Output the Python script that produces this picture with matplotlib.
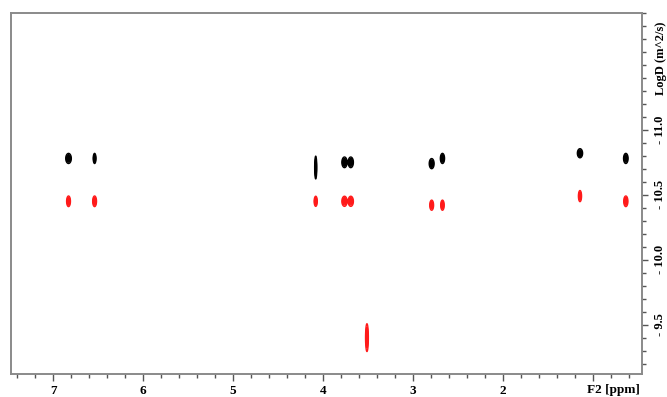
import numpy as np
import matplotlib
matplotlib.use("Agg")
import matplotlib.pyplot as plt
from matplotlib.ticker import MultipleLocator, FixedLocator
import matplotlib.transforms as mtransforms

# peak positions
black_ppm = [6.83, 6.54, 4.08, 3.76, 3.69, 2.79, 2.67, 1.14, 0.63]
black_logd = [-10.78, -10.78, -10.71, -10.75, -10.75, -10.74, -10.78, -10.82, -10.78]
black_wx = [0.016, 0.008, 0.006, 0.015, 0.015, 0.014, 0.012, 0.015, 0.013]
black_wy = [0.020, 0.020, 0.045, 0.021, 0.021, 0.020, 0.020, 0.018, 0.020]

red_ppm = [6.83, 6.54, 4.08, 3.76, 3.69, 2.79, 2.67, 1.14, 0.63, 3.51]
red_logd = [-10.45, -10.45, -10.45, -10.45, -10.45, -10.42, -10.42, -10.49, -10.45, -9.40]
red_wx = [0.011, 0.011, 0.009, 0.015, 0.015, 0.011, 0.010, 0.009, 0.012, 0.008]
red_wy = [0.021, 0.021, 0.020, 0.020, 0.020, 0.020, 0.020, 0.022, 0.021, 0.055]

x_ticks = [7, 6, 5, 4, 3, 2, 1]
x_labels = ["7", "6", "5", "4", "3", "2", ""]
y_ticks = [-11.0, -10.5, -10.0, -9.5]
y_labels = ["- 11.0", "- 10.5", "- 10.0", "- 9.5"]

xlim = (7.47, 0.45)
ylim = (-9.12, -11.9)

plt.rcParams['font.family'] = ['Liberation Serif', 'DejaVu Serif']
plt.rcParams['font.weight'] = 'bold'


def peak_map(ppm, logd, wx, wy, gx, gy):
    z = np.zeros((len(gy), len(gx)))
    for p, d, sx, sy in zip(ppm, logd, wx, wy):
        z = np.maximum(z, np.outer(np.exp(-0.5 * ((gy - d) / sy) ** 2),
                                   np.exp(-0.5 * ((gx - p) / sx) ** 2)))
    return z


gx = np.arange(0.45, 7.47, 0.0015)
gy = np.arange(-11.9, -9.1, 0.003)

fig = plt.figure(figsize=(6.67, 3.97), dpi=100)
ax = fig.add_axes([11 / 667, 1 - 374 / 397, 631 / 667, 361 / 397])

levels = [0.15, 0.35, 0.55, 0.75, 0.92]
ax.contour(gx, gy, peak_map(black_ppm, black_logd, black_wx, black_wy, gx, gy),
           levels=levels, colors='black', linewidths=1.0)
ax.contour(gx, gy, peak_map(red_ppm, red_logd, red_wx, red_wy, gx, gy),
           levels=levels, colors='#ff1a1a', linewidths=1.0)

ax.set_xlim(*xlim)
ax.set_ylim(*ylim)

for s in ['left', 'top', 'right', 'bottom']:
    ax.spines[s].set_color('#8a8a8a')
    ax.spines[s].set_linewidth(1.4)

ax.xaxis.set_major_locator(FixedLocator(x_ticks))
ax.set_xticklabels(x_labels)
ax.xaxis.set_minor_locator(MultipleLocator(0.2))
ax.tick_params(axis='x', which='major', length=5, width=1, color='#555555',
               labelsize=9.5, pad=3)
ax.tick_params(axis='x', which='minor', length=3, width=1, color='#555555')

ax.yaxis.tick_right()
ax.yaxis.set_major_locator(FixedLocator(y_ticks))
ax.set_yticklabels(y_labels)
ax.yaxis.set_minor_locator(MultipleLocator(0.1))
ax.tick_params(axis='y', which='major', length=4.5, width=1, color='#555555',
               labelsize=9, pad=4, labelrotation=90)
ax.tick_params(axis='y', which='minor', length=3, width=1, color='#555555')
for lbl in ax.get_yticklabels():
    lbl.set_va('center')

ax.yaxis.set_label_position('right')
ax.set_ylabel("LogD (m^2/s)", fontsize=9, fontweight='bold', rotation=90)
ax.yaxis.set_label_coords(1.02, 0.875)

trans = mtransforms.blended_transform_factory(ax.transData, ax.transAxes)
ax.text(1.06, -0.028, "F2 [ppm]", transform=trans, ha='left', va='top',
        fontsize=9.5, fontweight='bold')

fig.savefig('out.png', dpi=100)
